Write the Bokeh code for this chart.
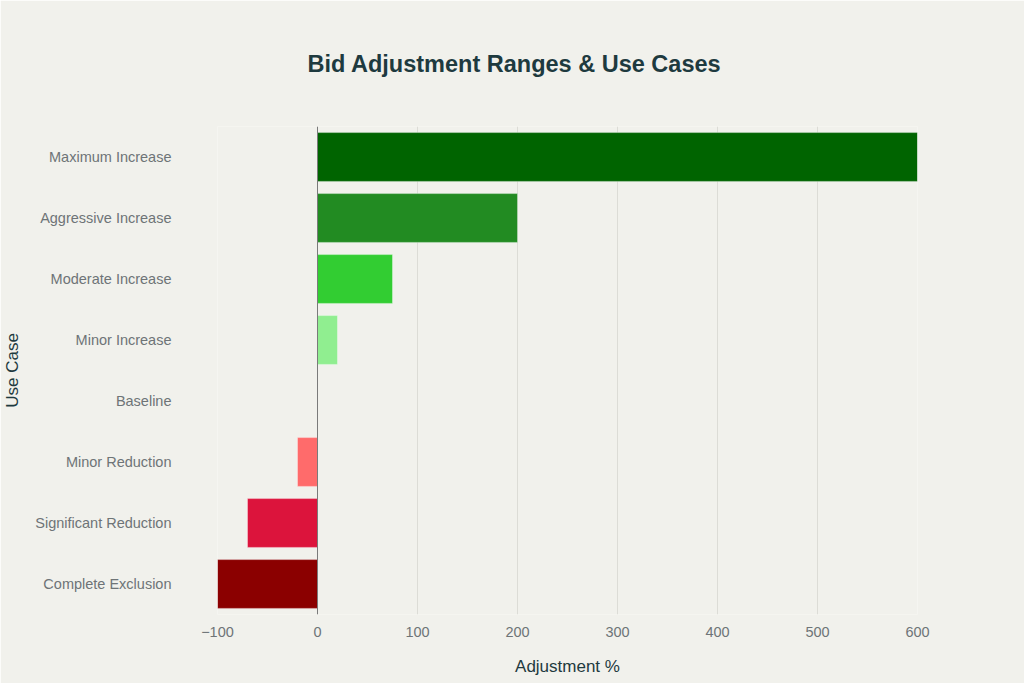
from bokeh.plotting import figure
from bokeh.models import ColumnDataSource, FactorRange, Span, Range1d, FixedTicker
from bokeh.embed import file_html
from bokeh.resources import INLINE

categories = ["Maximum Increase", "Aggressive Increase", "Moderate Increase", "Minor Increase",
              "Baseline", "Minor Reduction", "Significant Reduction", "Complete Exclusion"]
values = [600, 200, 75, 20, 0, -20, -70, -100]
colors = ["#006400", "#228B22", "#32CD32", "#90EE90", "#A9A9A9", "#FF6B6B", "#DC143C", "#8B0000"]
x_ticks = [-100, 0, 100, 200, 300, 400, 500, 600]

BG = "#F1F1EC"
FONT = "Liberation Sans"

src = ColumnDataSource(dict(cat=categories, val=values, zero=[0] * len(values), col=colors))

p = figure(width=1024, height=683, output_backend="svg", toolbar_location=None,
           y_range=FactorRange(*reversed(categories)), x_range=Range1d(-100, 600),
           min_border_left=217, min_border_right=107, min_border_top=126, min_border_bottom=69,
           title="Bid Adjustment Ranges & Use Cases")
p.background_fill_color = BG
p.border_fill_color = BG
p.outline_line_color = None

p.title.align = "left"
p.title.vertical_align = "top"
p.title.text_font = FONT
p.title.text_font_size = "23.5px"
p.title.text_font_style = "bold"
p.title.text_color = "#1E3A3F"
p.title.standoff = 96
p.title.offset = 90

p.hbar(y="cat", left="zero", right="val", height=0.8, source=src, fill_color="col",
       line_color="white", line_alpha=0.35, line_width=1)

p.add_layout(Span(location=0, dimension="height", line_color="#7A7A7A", line_width=1))

p.ygrid.grid_line_color = None
p.xgrid.grid_line_color = "#DCDCD6"
p.xgrid.ticker = FixedTicker(ticks=x_ticks)
p.xaxis.ticker = FixedTicker(ticks=x_ticks)

for ax in (p.xaxis[0], p.yaxis[0]):
    ax.axis_line_color = None
    ax.major_tick_line_color = None
    ax.minor_tick_line_color = None
    ax.major_label_text_font = FONT
    ax.major_label_text_font_size = "14.5px"
    ax.major_label_text_color = "#6E7477"
    ax.axis_label_text_font = FONT
    ax.axis_label_text_font_size = "17px"
    ax.axis_label_text_font_style = "normal"
    ax.axis_label_text_color = "#1E3A3F"

p.xaxis.axis_label = "Adjustment %"
p.xaxis.major_label_standoff = 6
p.xaxis.axis_label_standoff = 17
p.xaxis.major_label_overrides = {-100: "\u2212100"}
p.yaxis.axis_label = "Use Case"
p.yaxis.major_label_standoff = 40
p.yaxis.axis_label_standoff = 10

open("out.html", "w").write(file_html(p, INLINE))
